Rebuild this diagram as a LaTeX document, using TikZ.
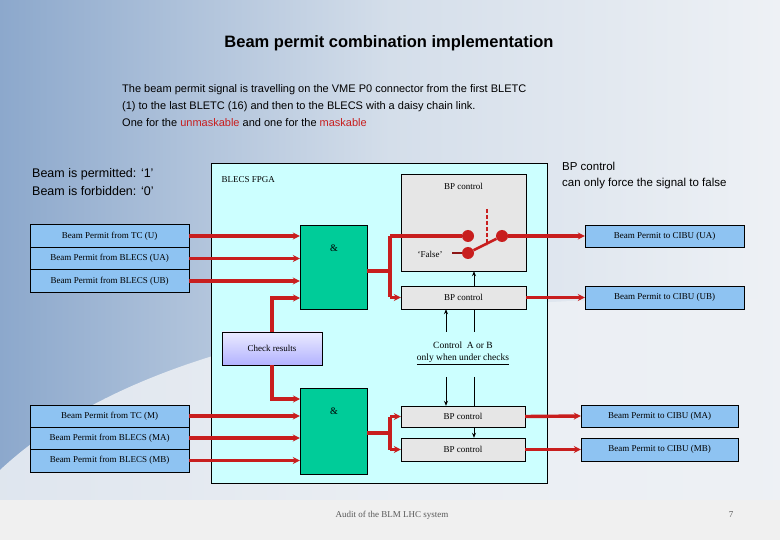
\documentclass[tikz,border=0pt]{standalone}
\usepackage{fontspec}
\setmainfont{Liberation Serif}
\newfontfamily\sansf{Liberation Sans}
\usetikzlibrary{arrows.meta,calc}
\definecolor{sig}{HTML}{C81E1E}
\definecolor{lblue}{HTML}{8EC3F2}
\definecolor{fpga}{HTML}{CCFFFF}
\definecolor{andg}{HTML}{00CC99}
\definecolor{gbox}{HTML}{E6E6E6}
\definecolor{bgl}{HTML}{8CA8CC}
\definecolor{bgm}{HTML}{D4DEEA}
\definecolor{bgr}{HTML}{EEF1F5}
\begin{document}
\begin{tikzpicture}[x=1pt,y=-1pt,
  lbox/.style={draw=black,fill=lblue,inner sep=0pt,font=\fontsize{9}{10}\selectfont},
  gate/.style={draw=black,fill=andg,inner sep=0pt},
  gbx/.style={draw=black,fill=gbox,inner sep=0pt,font=\fontsize{9}{10}\selectfont},
  sigl/.style={draw=sig,line width=3.4pt},
  sigarr/.style={sigl,-{Stealth[length=7pt,width=7pt]}},
  blk/.style={draw=black,line width=0.7pt},
  blkarr/.style={blk,-{Stealth[length=5pt,width=4pt]}},
  dot/.style={circle,fill=sig,inner sep=0pt,minimum size=12pt}]
\useasboundingbox (0,0) rectangle (780,540);
\fill[bgr] (0,0) rectangle (780,540);
\shade[left color=bgl,right color=bgm] (0,0) rectangle (390,540);
\shade[left color=bgm,right color=bgr] (389,0) rectangle (780,540);
\fill[bgr,opacity=0.85] (0,540) -- (0,470) .. controls (150,330) and (450,290) .. (780,300) -- (780,540) -- cycle;
\fill[gray!12] (0,500) rectangle (780,540);
% texts
\node[font=\sansf\bfseries\fontsize{16.5}{18}\selectfont] (title) at (389,43) {Beam permit combination implementation};
\node[font=\sansf\fontsize{11}{17}\selectfont,anchor=north west,align=left,inner sep=0pt] (para) at (122,84)
 {The beam permit signal is travelling on the VME P0 connector from the first BLETC\\(1) to the last BLETC (16) and then to the BLECS with a daisy chain link.\\One for the \textcolor{sig}{unmaskable} and one for the \textcolor{sig}{maskable}};
\node[font=\sansf\fontsize{12.5}{18}\selectfont,anchor=north west,align=left,inner sep=0pt] (perm) at (32,168)
 {Beam is permitted: ‘1’\\Beam is forbidden: ‘0’};
\node[font=\sansf\fontsize{11.5}{16}\selectfont,anchor=north west,align=left,inner sep=0pt] (bpnote) at (562,162)
 {BP control\\can only force the signal to false};
% FPGA
\node[draw=black,fill=fpga,minimum width=336pt,minimum height=320pt,inner sep=0pt] (fpga) at (379,323.5) {};
\node[anchor=west,font=\fontsize{9}{10}\selectfont] (fl) at (218,180) {BLECS FPGA};
% left boxes
\node[lbox,minimum width=159pt,minimum height=23pt] (u1) at (109.5,236) {Beam Permit from TC (U)};
\node[lbox,minimum width=159pt,minimum height=22pt] (u2) at (109.5,258.5) {Beam Permit from BLECS (UA)};
\node[lbox,minimum width=159pt,minimum height=23pt] (u3) at (109.5,281) {Beam Permit from BLECS (UB)};
\node[lbox,minimum width=159pt,minimum height=22pt] (m1) at (109.5,416) {Beam Permit from TC (M)};
\node[lbox,minimum width=159pt,minimum height=22pt] (m2) at (109.5,438) {Beam Permit from BLECS (MA)};
\node[lbox,minimum width=159pt,minimum height=23pt] (m3) at (109.5,460.5) {Beam Permit from BLECS (MB)};
% right boxes
\node[lbox,minimum width=159pt,minimum height=22pt] (ua) at (664.5,236) {Beam Permit to CIBU (UA)};
\node[lbox,minimum width=159pt,minimum height=23pt] (ub) at (664.5,297.5) {Beam Permit to CIBU (UB)};
\node[lbox,minimum width=157pt,minimum height=22pt] (ma) at (659.5,416) {Beam Permit to CIBU (MA)};
\node[lbox,minimum width=157pt,minimum height=23pt] (mb) at (659.5,449.5) {Beam Permit to CIBU (MB)};
% gates
\node[gate,minimum width=67pt,minimum height=84pt] (and1) at (333.5,267) {};
\node[font=\fontsize{10}{11}\selectfont] (a1l) at (334,248) {\&};
\node[gate,minimum width=67pt,minimum height=86pt] (and2) at (333.5,431) {};
\node[font=\fontsize{10}{11}\selectfont] (a2l) at (334,411) {\&};
% BP control boxes
\node[gbx,minimum width=125pt,minimum height=97pt] (sw) at (463.5,222.5) {};
\node[font=\fontsize{9}{10}\selectfont] (swl) at (463.5,186) {BP control};
\node[gbx,minimum width=125pt,minimum height=23pt] (bub) at (463.5,297.5) {BP control};
\node[gbx,minimum width=124pt,minimum height=21pt] (bma) at (463,416.5) {BP control};
\node[gbx,minimum width=124pt,minimum height=23pt] (bmb) at (463,449.5) {BP control};
\node[draw=black,top color=blue!8,bottom color=blue!30,minimum width=100pt,minimum height=33pt,inner sep=0pt,font=\fontsize{9}{10}\selectfont] (chk) at (272,348.5) {Check results};
\node[font=\fontsize{9.5}{12}\selectfont,align=center] (ctl) at (463,353) {Control\ \ A or B\\\underline{only when under checks}};
% inputs
\foreach \n in {u1,u2,u3,m1,m2,m3}{
  \draw[sigarr] (\n.east) -- (\n.east -| and1.west);}
\coordinate (c1) at (300,298);
\coordinate (c2) at (300,399);
\draw[sigarr] (chk.north) |- (c1);
\draw[sigarr] (chk.south) |- (c2);
% upper output
\coordinate (o1) at (367,271);
\coordinate (j1) at (390,271);
\node[dot] (d1) at (468,236) {};
\node[dot] (d2) at (502,236) {};
\node[dot] (d3) at (468,253) {};
\draw[sigl] (o1) -- (j1);
\draw[sigl] (j1 |- d1) -- (j1 |- bub);
\draw[sigl] (j1 |- d1) -- (d1);
\draw[sigarr] (j1 |- bub) -- (bub.west);
\draw[sigl,line width=2.5pt] (d3) -- (d2);
\draw[sig,line width=2.5pt,dash pattern=on 4pt off 2pt] (487,209) -- (487,245);
\node[font=\fontsize{9}{10}\selectfont] (fls) at (430,254) {‘False’};
\draw[sig!70!black,line width=2.5pt] (452,253) -- (d3);
\draw[sigarr] (d2) -- (ua.west);
\draw[sigarr] (bub.east) -- (ub.west);
% lower output
\coordinate (o2) at (367,433);
\coordinate (j2) at (390,433);
\draw[sigl] (o2) -- (j2);
\draw[sigl] (j2 |- bma) -- (j2 |- bmb);
\draw[sigarr] (j2 |- bma) -- (bma.west);
\draw[sigarr] (j2 |- bmb) -- (bmb.west);
\draw[sigarr] (bma.east) -- (ma.west);
\draw[sigarr] (bmb.east) -- (mb.west);
% control lines
\coordinate (t1) at (446,332);
\coordinate (t2) at (474,332);
\coordinate (b1) at (446,377);
\coordinate (b2) at (474,377);
\draw[blkarr] (t1) -- (t1 |- bub.south);
\draw[blk] (t2) -- (t2 |- bub.south);
\draw[blkarr] (t2 |- bub.north) -- (t2 |- sw.south);
\draw[blkarr] (b1) -- (b1 |- bma.north);
\draw[blk] (b2) -- (b2 |- bma.north);
\draw[blkarr] (b2 |- bma.south) -- (b2 |- bmb.north);
% footer
\node[text=gray!70!black,font=\fontsize{9}{10}\selectfont] (foot) at (392,515) {Audit of the BLM LHC system};
\node[text=gray!70!black,font=\fontsize{9}{10}\selectfont] (pg) at (731,515) {7};
\end{tikzpicture}
\end{document}
